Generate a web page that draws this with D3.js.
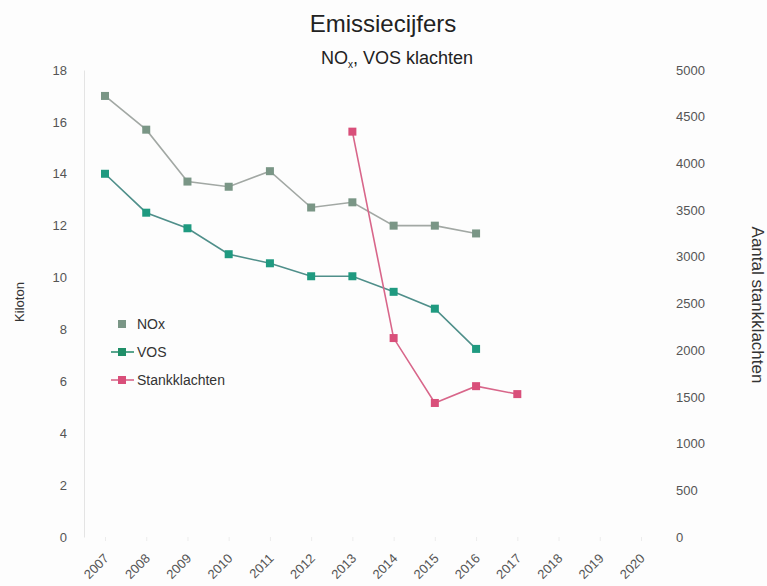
<!DOCTYPE html>
<html>
<head>
<meta charset="utf-8">
<script src="https://cdn.jsdelivr.net/npm/d3@7"></script>
<style>
  body { margin: 0; background: #fff; }
  text { font-family: "Liberation Sans", Arial, sans-serif; }
</style>
</head>
<body>
<div id="canvas"></div>
<script>
"use strict"

/* data */
let years = [2007, 2008, 2009, 2010, 2011, 2012, 2013, 2014, 2015, 2016, 2017, 2018, 2019, 2020];
let noxYears = [2007, 2008, 2009, 2010, 2011, 2012, 2013, 2014, 2015, 2016];
let noxValues = [17.0, 15.7, 13.7, 13.5, 14.1, 12.7, 12.9, 12.0, 12.0, 11.7];
let vosYears = [2007, 2008, 2009, 2010, 2011, 2012, 2013, 2014, 2015, 2016];
let vosValues = [14.0, 12.5, 11.9, 10.9, 10.55, 10.05, 10.05, 9.45, 8.8, 7.25];
let stankYears = [2013, 2014, 2015, 2016, 2017];
let stankValues = [4340, 2130, 1435, 1615, 1530];
let leftTicks = [0, 2, 4, 6, 8, 10, 12, 14, 16, 18];
let rightTicks = [0, 500, 1000, 1500, 2000, 2500, 3000, 3500, 4000, 4500, 5000];

let drawing = d3.select("#canvas")
    .append("svg")
    .attr("width", 767)
    .attr("height", 586);

drawing.append("rect")
    .attr("width", 767)
    .attr("height", 586)
    .attr("fill", "#fdfdfd");

/* scales */
let x = d3.scalePoint()
    .domain(years)
    .range([105, 641]);

let yLeft = d3.scaleLinear()
    .domain([0, 18])
    .range([537, 70]);

let yRight = d3.scaleLinear()
    .domain([0, 5000])
    .range([537, 70]);

/* title */
drawing.append("text")
    .attr("x", 383)
    .attr("y", 32)
    .attr("text-anchor", "middle")
    .attr("font-size", 24)
    .attr("fill", "#222")
    .text("Emissiecijfers");

let subtitle = drawing.append("text")
    .attr("x", 397)
    .attr("y", 64)
    .attr("text-anchor", "middle")
    .attr("font-size", 18)
    .attr("fill", "#222");
subtitle.append("tspan").text("NO");
subtitle.append("tspan").attr("font-size", 10).attr("dy", 4).text("x");
subtitle.append("tspan").attr("dy", -4).text(", VOS klachten");

/* left axis */
let leftAxis = drawing.append("g")
    .attr("transform", "translate(84,0)")
    .call(d3.axisLeft(yLeft).tickValues(leftTicks).tickSize(0).tickPadding(17));
leftAxis.select(".domain").attr("stroke", "#e4e4e4");
leftAxis.selectAll("text")
    .attr("font-size", 13)
    .attr("fill", "#555");

/* right axis */
let rightAxis = drawing.append("g")
    .attr("transform", "translate(676,0)")
    .call(d3.axisRight(yRight).tickValues(rightTicks).tickFormat(d3.format("d")).tickSize(0).tickPadding(0));
rightAxis.select(".domain").remove();
rightAxis.selectAll("text")
    .attr("font-size", 13)
    .attr("fill", "#555");

/* bottom axis */
let bottomAxis = drawing.append("g")
    .attr("transform", "translate(0,537)")
    .call(d3.axisBottom(x).tickSize(4).tickPadding(0));
bottomAxis.select(".domain").remove();
bottomAxis.selectAll("line").attr("stroke", "#ececec");
bottomAxis.selectAll("text")
    .attr("font-size", 13)
    .attr("fill", "#555")
    .attr("text-anchor", "end")
    .attr("x", 0)
    .attr("y", 0)
    .attr("dy", "0.35em")
    .attr("transform", "translate(1,19) rotate(-45)");

/* axis titles */
drawing.append("text")
    .attr("transform", "translate(24,302) rotate(-90)")
    .attr("text-anchor", "middle")
    .attr("font-size", 13)
    .attr("fill", "#333")
    .text("Kiloton");

drawing.append("text")
    .attr("transform", "translate(752,305) rotate(90)")
    .attr("text-anchor", "middle")
    .attr("font-size", 17)
    .attr("fill", "#333")
    .text("Aantal stankklachten");

/* lines */
function drawSeries(xs, vs, yScale, lineColor, markColor) {
    let pts = xs.map(function (yr, i) { return [x(yr), yScale(vs[i])]; });
    drawing.append("path")
        .attr("d", d3.line()(pts))
        .attr("fill", "none")
        .attr("stroke", lineColor)
        .attr("stroke-width", 1.6);
    drawing.append("g").selectAll("rect")
        .data(pts)
        .enter().append("rect")
        .attr("x", function (d) { return d[0] - 4; })
        .attr("y", function (d) { return d[1] - 4; })
        .attr("width", 8)
        .attr("height", 8)
        .attr("fill", markColor);
}

drawSeries(noxYears, noxValues, yLeft, "#a2a8a4", "#7a9686");
drawSeries(vosYears, vosValues, yLeft, "#4f8f8a", "#1f9a80");
drawSeries(stankYears, stankValues, yRight, "#d8668a", "#d94f7a");

/* legend */
let legendItems = [
    { name: "NOx", line: null, mark: "#7a9686" },
    { name: "VOS", line: "#2f8f70", mark: "#1f8f68" },
    { name: "Stankklachten", line: "#d8668a", mark: "#d94f7a" }
];
let legend = drawing.append("g");
legendItems.forEach(function (item, i) {
    let ly = 324 + i * 28;
    if (item.line) {
        legend.append("line")
            .attr("x1", 111).attr("x2", 134)
            .attr("y1", ly).attr("y2", ly)
            .attr("stroke", item.line)
            .attr("stroke-width", 1.6);
    }
    legend.append("rect")
        .attr("x", 118).attr("y", ly - 4)
        .attr("width", 8).attr("height", 8)
        .attr("fill", item.mark);
    legend.append("text")
        .attr("x", 137).attr("y", ly + 5)
        .attr("font-size", 14)
        .attr("fill", "#333")
        .text(item.name);
});
</script>
</body>
</html>
